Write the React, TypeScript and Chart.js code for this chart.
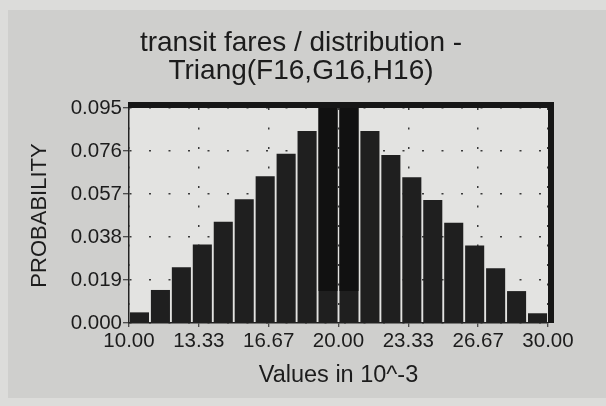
import React, { useEffect, useRef } from "react";
import { Chart, registerables } from "chart.js";

Chart.register(...registerables);

const titleLines = ["transit fares / distribution -", "Triang(F16,G16,H16)"];
const xTitle = "Values in 10^-3";
const yTitle = "PROBABILITY";

// bin centres (bins of width 1 from 10 to 30)
const binCenters = [10.5, 11.5, 12.5, 13.5, 14.5, 15.5, 16.5, 17.5, 18.5, 19.5, 20.5, 21.5, 22.5, 23.5, 24.5, 25.5, 26.5, 27.5, 28.5, 29.5];
const probabilities = [0.0047, 0.0146, 0.0246, 0.0347, 0.0447, 0.0547, 0.0648, 0.0748, 0.0848, 0.095, 0.095, 0.0848, 0.0742, 0.0644, 0.0543, 0.0443, 0.0342, 0.0242, 0.0141, 0.0043];

// darker upper part of the two central bars
const highlightBins = [19.5, 20.5];
const highlightLow = [0.0141, 0.0141];
const highlightHigh = [0.095, 0.095];

const xTicks = [10, 13.333, 16.667, 20, 23.333, 26.667, 30];
const yTicks = [0, 0.019, 0.038, 0.057, 0.076, 0.095];

const FONT = "'Liberation Sans', Arial, Helvetica, sans-serif";
const INK = "#1c1c1c";

const framePlugin = {
  id: "frame",
  beforeDraw(chart: any) {
    const { ctx, chartArea: a, width, height } = chart;
    ctx.save();
    ctx.fillStyle = "#dcdcda";
    ctx.fillRect(0, 0, width, height);
    ctx.fillStyle = "#cfcfcd";
    ctx.fillRect(8, 10, width - 8, height - 18);
    ctx.fillStyle = "#e3e3e1";
    ctx.fillRect(a.left, a.top, a.right - a.left, a.bottom - a.top);
    // title
    ctx.fillStyle = INK;
    ctx.font = `28px ${FONT}`;
    ctx.textAlign = "center";
    ctx.textBaseline = "alphabetic";
    ctx.fillText(titleLines[0], 301, 51);
    ctx.fillText(titleLines[1], 301, 79);
    ctx.restore();
  },
  afterDatasetsDraw(chart: any) {
    const { ctx, chartArea: a } = chart;
    ctx.save();
    ctx.fillStyle = "#161616";
    ctx.fillRect(a.left - 1, a.top - 6, a.right - a.left + 7, 6);
    ctx.fillRect(a.right, a.top - 6, 6, a.bottom - a.top + 6);
    ctx.restore();
  },
};

export default function App() {
  const ref = useRef<HTMLCanvasElement | null>(null);

  useEffect(() => {
    document.body.style.margin = "0";
    const canvas = ref.current;
    if (!canvas) return;
    const chart = new Chart(canvas, {
      type: "bar",
      data: {
        datasets: [
          {
            label: "overlay",
            data: highlightBins.map((x, i) => ({ x, y: [highlightLow[i], highlightHigh[i]] })) as any,
            backgroundColor: "#111111",
            barPercentage: 0.91,
            categoryPercentage: 1,
            grouped: false,
            order: 0,
          } as any,
          {
            label: "probability",
            data: binCenters.map((x, i) => ({ x, y: probabilities[i] })) as any,
            backgroundColor: "#1f1f1f",
            barPercentage: 0.91,
            categoryPercentage: 1,
            grouped: false,
            order: 1,
          } as any,
        ],
      },
      options: {
        responsive: false,
        animation: false,
        layout: { padding: { left: 0, right: 58, top: 108, bottom: 0 } },
        plugins: {
          legend: { display: false },
          tooltip: { enabled: false },
          title: { display: false },
        },
        scales: {
          x: {
            type: "linear",
            min: 10,
            max: 30,
            offset: false,
            afterBuildTicks: (scale: any) => {
              scale.ticks = xTicks.map((v) => ({ value: v }));
            },
            afterFit: (scale: any) => {
              scale.height = 83;
            },
            ticks: {
              autoSkip: false,
              maxRotation: 0,
              padding: 2,
              color: INK,
              font: { family: FONT, size: 20.5 },
              callback: (v: any) => Number(v).toFixed(2),
            },
            grid: {
              offset: false,
              color: "#3a3a3a",
              lineWidth: 1.5,
              tickLength: 4,
              tickColor: "#222",
              tickWidth: 1,
            },
            border: { display: true, color: "#222", width: 1.5, dash: [2, 17.5] },
            title: {
              display: true,
              text: xTitle,
              color: INK,
              font: { family: FONT, size: 23.5 },
              padding: { top: 0, bottom: 16 },
            },
          },
          y: {
            type: "linear",
            min: 0,
            max: 0.095,
            afterBuildTicks: (scale: any) => {
              scale.ticks = yTicks.map((v) => ({ value: v }));
            },
            afterFit: (scale: any) => {
              scale.width = 129;
            },
            ticks: {
              autoSkip: false,
              padding: 1,
              color: INK,
              font: { family: FONT, size: 20.5 },
              callback: (v: any) => Number(v).toFixed(3),
            },
            grid: {
              color: "#3a3a3a",
              lineWidth: 1.5,
              tickLength: 6,
              tickColor: "#222",
              tickWidth: 1,
            },
            border: { display: true, color: "#222", width: 1.5, dash: [2, 17.5] },
            title: {
              display: true,
              text: yTitle,
              color: INK,
              font: { family: FONT, size: 22 },
              padding: { top: 27, bottom: 0 },
            },
          },
        },
      } as any,
      plugins: [framePlugin],
    });
    return () => chart.destroy();
  }, []);

  return (
    <div style={{ width: 606, height: 406 }}>
      <canvas ref={ref} width={606} height={406} />
    </div>
  );
}
